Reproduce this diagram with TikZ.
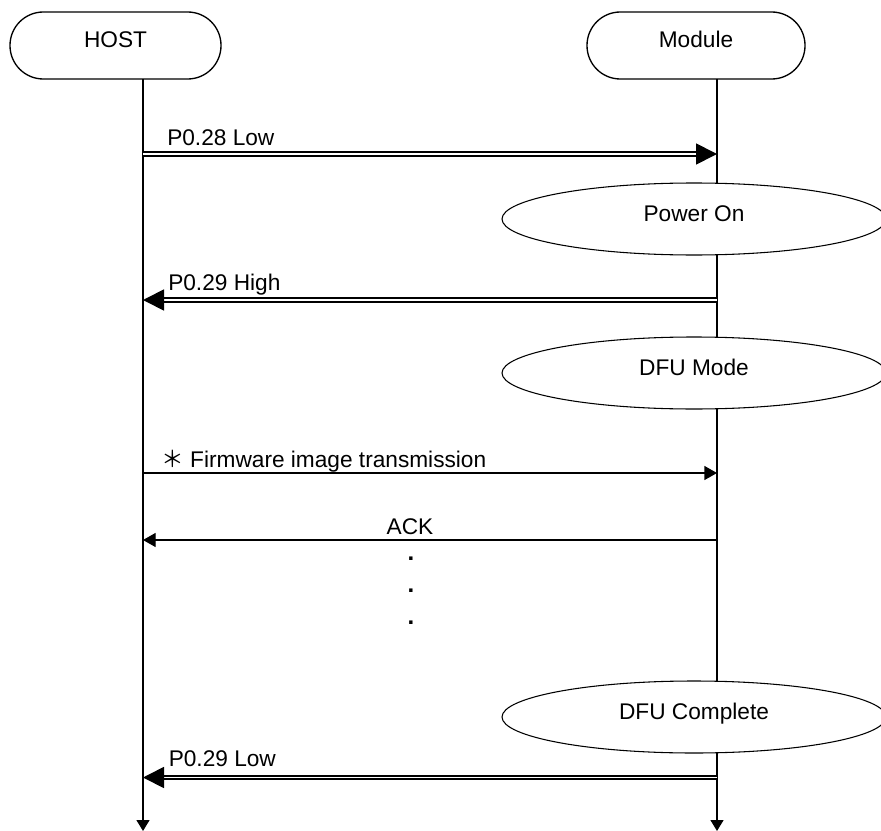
\documentclass[tikz,border=0pt]{standalone}
\usepackage{fontspec}
\setmainfont{Liberation Sans}
\newfontfamily\cjkfont{Noto Sans CJK JP}
\usetikzlibrary{arrows.meta,shapes.geometric}
\begin{document}
\begin{tikzpicture}[x=0.75pt,y=-0.75pt,
  font=\fontsize{17pt}{20pt}\selectfont,
  actor/.style={draw,line width=1pt,rounded corners=25pt,minimum width=#1,minimum height=50.25pt,inner sep=0pt,text height=13pt,text depth=9.8pt},
  state/.style={draw,fill=white,ellipse,line width=0.8pt,minimum width=288pt,minimum height=54pt,inner sep=0pt,text height=13pt,text depth=9.8pt},
  life/.style={line width=1pt,-{Triangle[length=8.25pt,width=9.75pt]}},
  sig/.style={double,double distance=1.4pt,line width=1.3pt,-{Triangle[length=15.75pt,width=15.75pt]}},
  msg/.style={line width=1pt,-{Triangle[length=9.5pt,width=10.5pt]}},
  lbl/.style={anchor=base west,inner sep=0pt},
  dot/.style={inner sep=0pt,font=\fontsize{18pt}{18pt}\selectfont\bfseries},
]
\useasboundingbox (0,0) rectangle (881,831);
\clip (0,0) rectangle (881,831);
% actors
\node[actor=158.25pt] (host) at (115.5,45.5) {HOST};
\node[actor=163.5pt] (module) at (696,45.5) {Module};
% lifelines
\coordinate (htop) at (143,79); \coordinate (hbot) at (143,831);
\coordinate (mtop) at (717,79); \coordinate (mbot) at (717,831);
\draw[life] (htop) -- (hbot);
\draw[life] (mtop) -- (mbot);
% P0.28 Low
\coordinate (h1) at (143,154); \coordinate (m1) at (717,154);
\draw[sig] (h1) -- (m1);
\node[lbl] (l1) at (167,146) {P0.28 Low};
% Power On
\node[state] (pon) at (694,219) {Power On};
% P0.29 High
\coordinate (h2) at (143,300); \coordinate (m2) at (717,300);
\draw[sig] (m2) -- (h2);
\node[lbl] (l2) at (168,290) {P0.29 High};
% DFU Mode
\node[state] (dfu) at (694,373) {DFU Mode};
% Firmware
\coordinate (h3) at (143,473); \coordinate (m3) at (717,473);
\draw[msg] (h3) -- (m3);
\node[lbl] (l3) at (161,467.5) {{\cjkfont ＊} Firmware image transmission};
% ACK
\coordinate (h4) at (143,540); \coordinate (m4) at (717,540);
\draw[msg] (m4) -- (h4);
\node[anchor=base,inner sep=0pt] (l4) at (410,534) {ACK};
% dots
\node[dot] (d1) at (411,559) {.};
\node[dot] (d2) at (411,591) {.};
\node[dot] (d3) at (411,623) {.};
% DFU Complete
\node[state] (done) at (694,717) {DFU Complete};
% P0.29 Low
\coordinate (h5) at (143,777.5); \coordinate (m5) at (717,777.5);
\draw[sig] (m5) -- (h5);
\node[lbl] (l5) at (168.5,766) {P0.29 Low};
\end{tikzpicture}
\end{document}
